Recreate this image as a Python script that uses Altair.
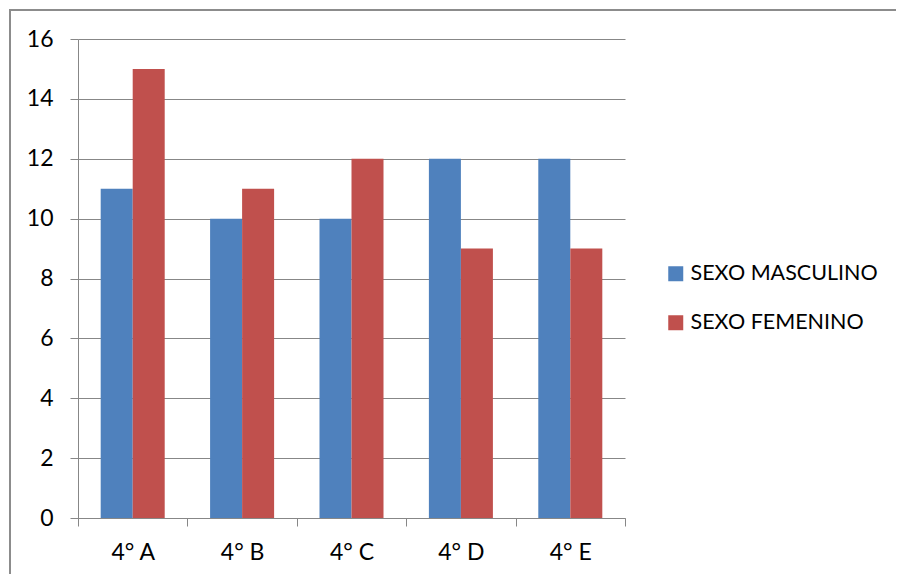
import altair as alt
import pandas as pd

categories = ["4° A", "4° B", "4° C", "4° D", "4° E"]
masculino = [11, 10, 10, 12, 12]
femenino = [15, 11, 12, 9, 9]
series = ["SEXO MASCULINO", "SEXO FEMENINO"]
colors = ["#4F81BD", "#C0504D"]
y_ticks = [0, 2, 4, 6, 8, 10, 12, 14, 16]

rows = []
for c, m, f in zip(categories, masculino, femenino):
    rows.append({"curso": c, "sexo": series[0], "valor": m})
    rows.append({"curso": c, "sexo": series[1], "valor": f})
df = pd.DataFrame(rows)

FONT = "Lato"
GRAY = "#878787"
FS = 23

bars = alt.Chart(df).mark_bar().encode(
    x=alt.X("curso:N", sort=categories, title=None,
            scale=alt.Scale(paddingInner=0, paddingOuter=0),
            axis=alt.Axis(labelAngle=0, tickBand="extent", tickSize=8, tickColor=GRAY,
                          domainColor=GRAY, grid=False, labelFontSize=FS, labelFont=FONT,
                          labelColor="black", labelPadding=15)),
    xOffset=alt.XOffset("sexo:N", sort=series,
                        scale=alt.Scale(paddingInner=0, paddingOuter=0.709)),
    y=alt.Y("valor:Q", title=None,
            scale=alt.Scale(domain=[0, 16], nice=False),
            axis=alt.Axis(values=y_ticks, tickSize=8, tickColor=GRAY, domainColor=GRAY,
                          gridColor=GRAY, gridWidth=1, labelFontSize=FS, labelFont=FONT,
                          labelColor="black", labelPadding=17)),
    color=alt.Color("sexo:N", sort=series, title=None,
                    scale=alt.Scale(domain=series, range=colors),
                    legend=alt.Legend(orient="none", legendX=587, legendY=224,
                                      symbolType="square", symbolSize=225,
                                      symbolStrokeWidth=0, labelFontSize=21.5,
                                      labelFont=FONT, labelColor="black", labelLimit=0,
                                      labelOffset=4, rowPadding=26, padding=0)),
)

border_df = pd.DataFrame({"a": [0]})
top_border = alt.Chart(border_df).mark_rule(color="#8c8c8c", strokeWidth=2).encode(
    x=alt.value(-69), x2=alt.value(818), y=alt.value(-29)
)
left_border = alt.Chart(border_df).mark_rule(color="#8c8c8c", strokeWidth=2).encode(
    x=alt.value(-68), y=alt.value(-30), y2=alt.value(540)
)

chart = alt.layer(top_border, left_border, bars).properties(
    width=547, height=479,
    padding={"left": 70, "top": 31, "right": 271, "bottom": 56},
    autosize=alt.AutoSizeParams(type="none"),
).configure_view(stroke=None)

chart.save("out.html", embed_options={"renderer": "svg", "actions": False})
